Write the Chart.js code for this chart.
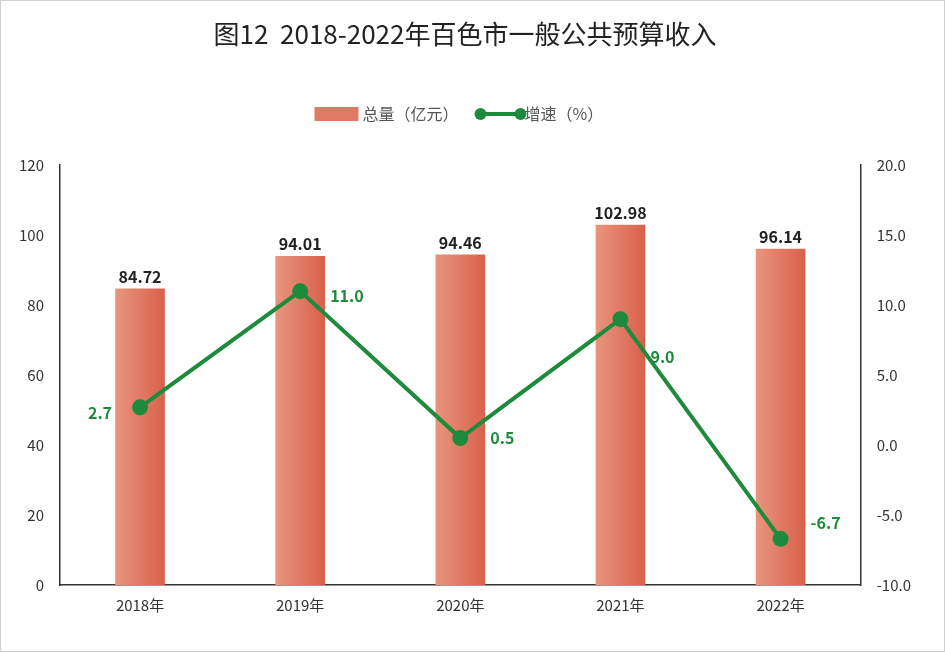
<!DOCTYPE html>
<html><head><meta charset="utf-8">
<script src="https://cdn.jsdelivr.net/npm/chart.js@4"></script>
<style>
html,body{margin:0;padding:0;background:#fff;}
#wrap{position:absolute;left:0;top:0;width:943px;height:650px;border:1px solid #d0d0d0;}
</style></head><body>
<div id="wrap"><canvas id="c" width="943" height="650"></canvas></div>
<script>
const categories=['2018年','2019年','2020年','2021年','2022年'];
const totals=[84.72,94.01,94.46,102.98,96.14];
const growth=[2.7,11.0,0.5,9.0,-6.7];
const leftTicks=[0,20,40,60,80,100,120];
const rightTicks=[-10,-5,0,5,10,15,20];

const F='"Noto Sans CJK SC","Noto Sans",sans-serif';
const labelPlugin={id:'lbl',afterDatasetsDraw(ch){
  const ctx=ch.ctx;ctx.save();
  const b=ch.getDatasetMeta(0).data, l=ch.getDatasetMeta(1).data;
  ctx.font='bold 16px '+F;ctx.textAlign='center';ctx.textBaseline='bottom';ctx.fillStyle='#222';
  b.forEach((e,i)=>ctx.fillText(totals[i].toFixed(2),e.x,e.y-4));
  ctx.fillStyle='#1e8a3c';ctx.textBaseline='middle';
  l.forEach((e,i)=>{
    const t=growth[i].toFixed(1);
    if(i===0){ctx.textAlign='right';ctx.fillText(t,e.x-28,e.y+6);}
    else{ctx.textAlign='left';ctx.fillText(t,e.x+30,e.y+(i===1?5:i===3?38:i===4?-16:0));}
  });
  // legend
  const cx=ch.width/2, y=113;
  ctx.font='16px '+F;ctx.textBaseline='middle';ctx.textAlign='left';
  ctx.fillStyle='#e07a64';ctx.fillRect(cx-158,y-7,44,14);
  ctx.fillStyle='#555';ctx.fillText('总量（亿元）',cx-110,y);
  ctx.strokeStyle='#1e8a3c';ctx.lineWidth=4;ctx.beginPath();ctx.moveTo(cx+8,y);ctx.lineTo(cx+48,y);ctx.stroke();
  ctx.fillStyle='#1e8a3c';[cx+8,cx+48].forEach(px=>{ctx.beginPath();ctx.arc(px,y,6,0,Math.PI*2);ctx.fill();});
  ctx.fillStyle='#555';ctx.fillText('增速（%）',cx+52,y);
  ctx.restore();
}};
const ctx=document.getElementById('c').getContext('2d');
new Chart(ctx,{
  data:{labels:categories,datasets:[
    {type:'bar',label:'总量（亿元）',data:totals,yAxisID:'y',order:2,barPercentage:0.62,categoryPercentage:0.5,
     backgroundColor:(c)=>{const ch=c.chart;if(!ch.chartArea||!ch.scales.x)return '#e07a64';
       const px=ch.scales.x.getPixelForValue(c.dataIndex);
       const g=ch.ctx.createLinearGradient(px-25,0,px+25,0);
       g.addColorStop(0,'#e8957f');g.addColorStop(1,'#d9604a');return g;}},
    {type:'line',label:'增速（%）',data:growth,yAxisID:'y1',order:1,borderColor:'#1e8a3c',backgroundColor:'#1e8a3c',
     borderWidth:4,pointRadius:6,pointBackgroundColor:'#1e8a3c',pointBorderColor:'#1e8a3c',tension:0}
  ]},
  options:{responsive:false,animation:false,
    layout:{padding:{left:10,right:25,top:10,bottom:34}},
    plugins:{
      title:{display:true,text:'图12  2018-2022年百色市一般公共预算收入',color:'#222',font:{family:F,size:26,weight:'normal'},padding:{top:8,bottom:115}},
      legend:{display:false},
      tooltip:{enabled:false}},
    scales:{
      x:{grid:{display:false},border:{color:'#333',width:1.5},ticks:{font:{family:F,size:15},color:'#333'}},
      y:{position:'left',min:0,max:120,afterBuildTicks:s=>{s.ticks=leftTicks.map(v=>({value:v}));},
        grid:{display:false},border:{color:'#333',width:1.5},ticks:{font:{family:F,size:15},color:'#333',padding:8}},
      y1:{position:'right',min:-10,max:20,afterBuildTicks:s=>{s.ticks=rightTicks.map(v=>({value:v}));},
        grid:{display:false},border:{color:'#333',width:1.5},ticks:{font:{family:F,size:15},color:'#333',padding:8,callback:v=>Number(v).toFixed(1)}}
    }},
  plugins:[labelPlugin]
});
</script></body></html>
